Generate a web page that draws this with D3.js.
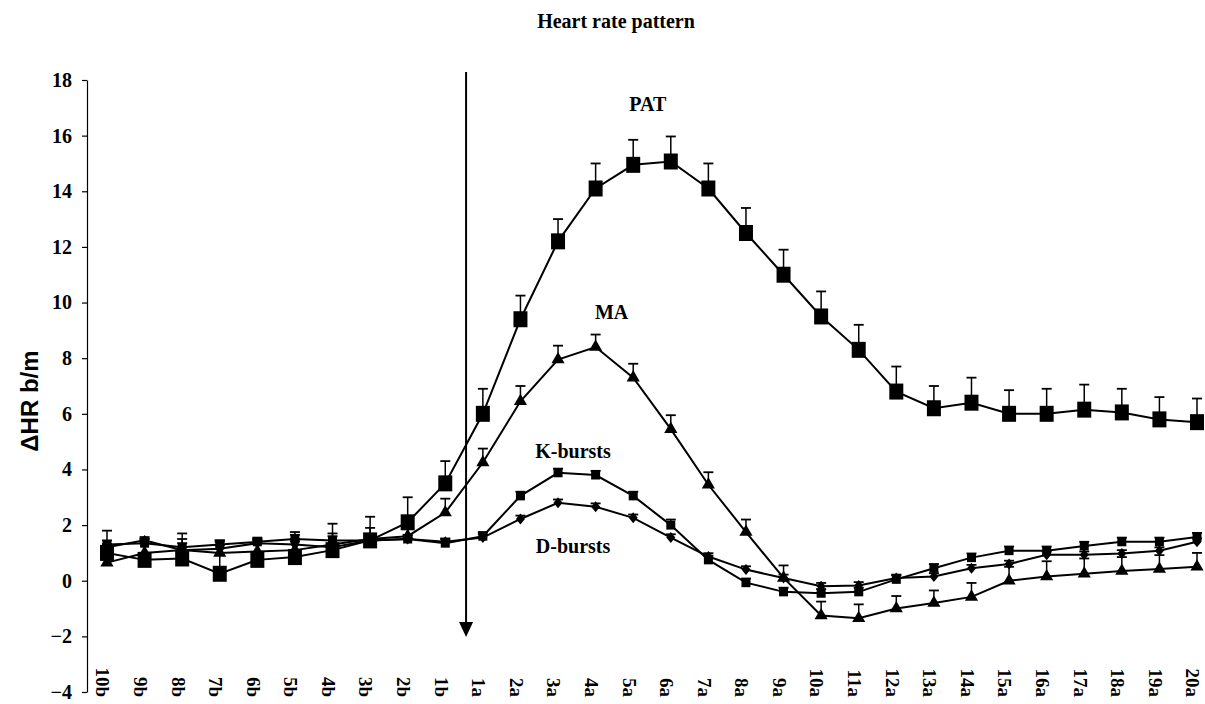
<!DOCTYPE html>
<meta charset="utf-8">
<script src="https://d3js.org/d3.v7.min.js"></script>
<style>
body { margin: 0; background: #fff; }
text { font-family: "Liberation Serif", "Times New Roman", serif; font-weight: bold; fill: #000; }
.axis path, .axis line { stroke: #000; stroke-width: 1.2; fill: none; }
</style>
<body>
<script>

var categories = ["10b","9b","8b","7b","6b","5b","4b","3b","2b","1b",
  "1a","2a","3a","4a","5a","6a","7a","8a","9a","10a",
  "11a","12a","13a","14a","15a","16a","17a","18a","19a","20a"];

var patValues = [1.0, 0.75, 0.8, 0.25, 0.75, 0.85, 1.1, 1.45, 2.1, 3.5,
  6.0, 9.4, 12.2, 14.1, 14.95, 15.07, 14.1, 12.5, 11.0, 9.5,
  8.3, 6.8, 6.2, 6.4, 6.0, 6.0, 6.15, 6.05, 5.8, 5.7];
var patErr = [0.8, 0.75, 0.9, 1.2, 0.75, 0.9, 0.95, 0.85, 0.9, 0.8,
  0.9, 0.85, 0.8, 0.9, 0.9, 0.9, 0.9, 0.9, 0.9, 0.9,
  0.9, 0.9, 0.8, 0.9, 0.85, 0.9, 0.9, 0.85, 0.8, 0.85];

var maValues = [0.65, 1.0, 1.1, 1.0, 1.05, 1.1, 1.3, 1.5, 1.6, 2.45,
  4.25, 6.45, 7.95, 8.4, 7.3, 5.45, 3.45, 1.75, 0.1, -1.25,
  -1.35, -1.0, -0.8, -0.58, 0.0, 0.15, 0.25, 0.35, 0.42, 0.5];
var maErr = [0.4, 0.4, 0.4, 0.4, 0.4, 0.4, 0.4, 0.4, 0.4, 0.5,
  0.5, 0.55, 0.5, 0.45, 0.5, 0.5, 0.45, 0.45, 0.45, 0.5,
  0.5, 0.45, 0.45, 0.5, 0.5, 0.55, 0.55, 0.5, 0.5, 0.5];

var kValues = [1.3, 1.35, 1.2, 1.3, 1.4, 1.5, 1.45, 1.45, 1.5, 1.35,
  1.6, 3.05, 3.88, 3.8, 3.05, 2.0, 0.75, -0.07, -0.4, -0.45,
  -0.4, 0.05, 0.45, 0.83, 1.08, 1.08, 1.25, 1.4, 1.4, 1.57];
var kErr = [0.15, 0.15, 0.15, 0.15, 0.15, 0.15, 0.15, 0.15, 0.15, 0.15,
  0.15, 0.15, 0.15, 0.15, 0.15, 0.2, 0.15, 0.15, 0.15, 0.15,
  0.15, 0.15, 0.15, 0.15, 0.15, 0.15, 0.15, 0.15, 0.15, 0.15];

var dValues = [1.2, 1.45, 1.1, 1.15, 1.35, 1.3, 1.2, 1.45, 1.5, 1.4,
  1.55, 2.22, 2.8, 2.66, 2.26, 1.55, 0.87, 0.4, 0.1, -0.2,
  -0.17, 0.1, 0.15, 0.45, 0.6, 0.93, 0.93, 0.98, 1.08, 1.4];
var dErr = [0.12, 0.12, 0.12, 0.12, 0.12, 0.12, 0.12, 0.12, 0.12, 0.12,
  0.12, 0.12, 0.12, 0.12, 0.12, 0.12, 0.12, 0.12, 0.12, 0.12,
  0.12, 0.12, 0.12, 0.12, 0.12, 0.12, 0.12, 0.12, 0.12, 0.12];

var yTicks = [-4, -2, 0, 2, 4, 6, 8, 10, 12, 14, 16, 18];

var series = [
  {name: "PAT", values: patValues, err: patErr, shape: "bigsquare"},
  {name: "MA", values: maValues, err: maErr, shape: "triangle"},
  {name: "K-bursts", values: kValues, err: kErr, shape: "square"},
  {name: "D-bursts", values: dValues, err: dErr, shape: "diamond"}
];

var labels = [
  {text: "PAT", cat: "6a", v: 16.9, dx: -23},
  {text: "MA", cat: "4a", v: 9.4, dx: 16},
  {text: "K-bursts", cat: "3a", v: 4.4, dx: 15},
  {text: "D-bursts", cat: "3a", v: 1.0, dx: 15}
];

var width = 1205, height = 704;

var svg = d3.select("body").append("svg")
  .attr("width", width)
  .attr("height", height);

var x = d3.scalePoint()
  .domain(categories)
  .range([107, 1197]);

var y = d3.scaleLinear()
  .domain([-4, 18])
  .range([692, 80]);

// title
svg.append("text")
  .attr("x", 616)
  .attr("y", 28)
  .attr("text-anchor", "middle")
  .style("font-size", "20px")
  .text("Heart rate pattern");

// y axis
svg.append("g")
  .attr("class", "axis")
  .attr("transform", "translate(87,0)")
  .call(d3.axisLeft(y).tickValues(yTicks).tickSize(5).tickSizeOuter(0).tickPadding(10))
  .call(function(g) {
    g.selectAll("text")
      .style("font-size", "20px")
      .style("font-family", "'Liberation Serif', serif")
      .style("font-weight", "bold");
  });

svg.append("text")
  .attr("transform", "translate(38,401) rotate(-90)")
  .attr("text-anchor", "middle")
  .style("font-family", "'Liberation Sans', Arial, sans-serif")
  .style("font-size", "24px")
  .text("\u0394HR b/m");

// x labels, rotated
svg.append("g").selectAll("text")
  .data(categories)
  .enter()
  .append("text")
  .attr("transform", function(d) { return "translate(" + (x(d) - 4) + ",697) rotate(90)"; })
  .attr("text-anchor", "end")
  .attr("dy", "0.35em")
  .style("font-size", "19px")
  .text(function(d) { return d; });

// arrow marking the event
var arrowX = (x("1b") + x("1a")) / 2 + 2;
svg.append("line")
  .attr("x1", arrowX).attr("x2", arrowX)
  .attr("y1", 72).attr("y2", 625)
  .attr("stroke", "#000")
  .attr("stroke-width", 2);
svg.append("path")
  .attr("d", "M" + (arrowX - 7) + ",622L" + (arrowX + 7) + ",622L" + arrowX + ",637Z")
  .attr("fill", "#000");

var line = d3.line()
  .x(function(d, i) { return x(categories[i]); })
  .y(function(d) { return y(d); });

// lines
svg.append("g").selectAll("path")
  .data(series)
  .enter()
  .append("path")
  .attr("d", function(s) { return line(s.values); })
  .attr("fill", "none")
  .attr("stroke", "#000")
  .attr("stroke-width", 2);

// error bars (upper only)
series.forEach(function(s) {
  var g = svg.append("g");
  s.values.forEach(function(v, i) {
    var cx = x(categories[i]);
    var top = y(v + s.err[i]);
    g.append("line")
      .attr("x1", cx).attr("x2", cx)
      .attr("y1", y(v)).attr("y2", top)
      .attr("stroke", "#000").attr("stroke-width", 1.5);
    g.append("line")
      .attr("x1", cx - 5).attr("x2", cx + 5)
      .attr("y1", top).attr("y2", top)
      .attr("stroke", "#000").attr("stroke-width", 1.8);
  });
});

// markers
function markerPath(shape) {
  if (shape === "triangle") return d3.symbol().type(d3.symbolTriangle).size(75)();
  if (shape === "diamond") return "M0,-5.5L4.5,0L0,5.5L-4.5,0Z";
  if (shape === "square") return "M-4.5,-4.5H4.5V4.5H-4.5Z";
  return "M-7,-8H7V8H-7Z";
}

series.forEach(function(s) {
  svg.append("g").selectAll("path")
    .data(s.values)
    .enter()
    .append("path")
    .attr("transform", function(d, i) { return "translate(" + x(categories[i]) + "," + y(d) + ")"; })
    .attr("d", markerPath(s.shape))
    .attr("fill", "#000");
});

// series labels
svg.append("g").selectAll("text")
  .data(labels)
  .enter()
  .append("text")
  .attr("x", function(d) { return x(d.cat) + d.dx; })
  .attr("y", function(d) { return y(d.v); })
  .attr("text-anchor", "middle")
  .style("font-size", "20px")
  .text(function(d) { return d.text; });

</script>
</body>
